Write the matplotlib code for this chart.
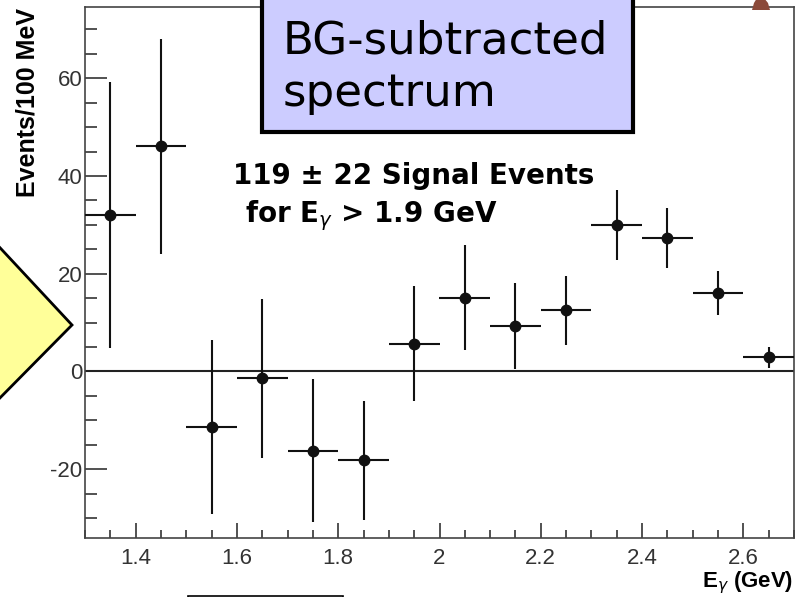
import matplotlib
matplotlib.use("Agg")
import matplotlib.pyplot as plt
from matplotlib.patches import Rectangle, Polygon
from matplotlib.ticker import MultipleLocator, FuncFormatter

# background-subtracted photon energy spectrum, 100 MeV bins
e_gamma = [1.35, 1.45, 1.55, 1.65, 1.75, 1.85, 1.95, 2.05,
           2.15, 2.25, 2.35, 2.45, 2.55, 2.65]
events = [32.0, 46.1, -11.4, -1.4, -16.2, -18.2, 5.7, 15.1,
          9.3, 12.5, 30.0, 27.3, 16.1, 2.9]
errors = [27.3, 22.0, 17.8, 16.3, 14.7, 12.2, 11.7, 10.8,
          8.8, 7.0, 7.2, 6.2, 4.5, 2.2]
half_bin = 0.05

W, H = 810, 597
fig = plt.figure(figsize=(W / 100, H / 100), dpi=100)


def fx(x):
    return x / W


def fy(y):
    return 1 - y / H


ax = fig.add_axes([fx(85), fy(538), fx(794) - fx(85), fy(7) - fy(538)])

ax.errorbar(e_gamma, events, xerr=half_bin, yerr=errors, fmt="o",
            color="#111111", ms=7.5, elinewidth=1.5, capsize=0, zorder=3)
ax.axhline(0, color="#222222", lw=1.5, zorder=2)

ax.set_xlim(1.3, 2.7)
ax.set_ylim(-34.1, 74.6)
ax.xaxis.set_major_locator(MultipleLocator(0.2))
ax.xaxis.set_minor_locator(MultipleLocator(0.05))
ax.yaxis.set_major_locator(MultipleLocator(20))
ax.yaxis.set_minor_locator(MultipleLocator(5))
fmt = FuncFormatter(lambda v, _: f"{v:g}")
ax.xaxis.set_major_formatter(fmt)
ax.yaxis.set_major_formatter(fmt)

ax.tick_params(which="both", direction="in", color="#333333",
               labelcolor="#333333", labelsize=16, width=1.2)
ax.tick_params(axis="x", which="major", length=10.8, pad=7)
ax.tick_params(axis="x", which="minor", length=5.8)
ax.tick_params(axis="y", which="major", length=15.8, pad=2)
ax.tick_params(axis="y", which="minor", length=8.6)
for lab in ax.get_xticklabels() + ax.get_yticklabels():
    lab.set_family("Liberation Sans")
for s in ax.spines.values():
    s.set_color("#444444")
    s.set_linewidth(1.2)

fig.text(fx(28), fy(8), "Events/100 MeV", rotation=90, ha="center", va="top",
         fontsize=18, fontweight="bold", family="Liberation Sans")
fig.text(fx(793), fy(583), r"E$_{\gamma}$ (GeV)", ha="right", va="center",
         fontsize=16, fontweight="bold", family="Liberation Sans")

# signal yield annotation
fig.text(fx(233), fy(184), "119 \u00b1 22 Signal Events", ha="left",
         va="baseline", fontsize=20, fontweight="bold", family="DejaVu Sans",
         zorder=6)
fig.text(fx(245), fy(222), r"for E$_{\gamma}$ > 1.9 GeV", ha="left",
         va="baseline", fontsize=20, fontweight="bold", family="DejaVu Sans",
         zorder=6)

# title box
fig.add_artist(Rectangle((fx(262), fy(132)), fx(633) - fx(262), fy(-20) - fy(132),
                         transform=fig.transFigure, facecolor="#ccccff",
                         edgecolor="black", lw=3, zorder=5))
fig.text(fx(283), fy(53), "BG-subtracted", ha="left", va="baseline",
         fontsize=32.5, family="DejaVu Sans", zorder=6)
fig.text(fx(283), fy(106), "spectrum", ha="left", va="baseline",
         fontsize=32.5, family="DejaVu Sans", zorder=6)

# arrow callout on the left
fig.add_artist(Polygon([(fx(-10), fy(237)), (fx(72), fy(325)), (fx(-10), fy(408))],
                       closed=True, transform=fig.transFigure,
                       facecolor="#ffff99", edgecolor="black", lw=2, zorder=5))

# box edge at the bottom
fig.add_artist(Rectangle((fx(188), fy(615)), fx(343) - fx(188), fy(596) - fy(615),
                         transform=fig.transFigure, facecolor="white",
                         edgecolor="black", lw=1.2, zorder=5))

# small brown mark at top right
fig.add_artist(Polygon([(fx(752), fy(10)), (fx(770), fy(10)), (fx(768), fy(3)),
                        (fx(764), fy(-2)), (fx(757), fy(-2)), (fx(754), fy(3))],
                       closed=True, transform=fig.transFigure,
                       facecolor="#8b4a3a", edgecolor="none", zorder=5))

fig.savefig("out.png", dpi=100)
